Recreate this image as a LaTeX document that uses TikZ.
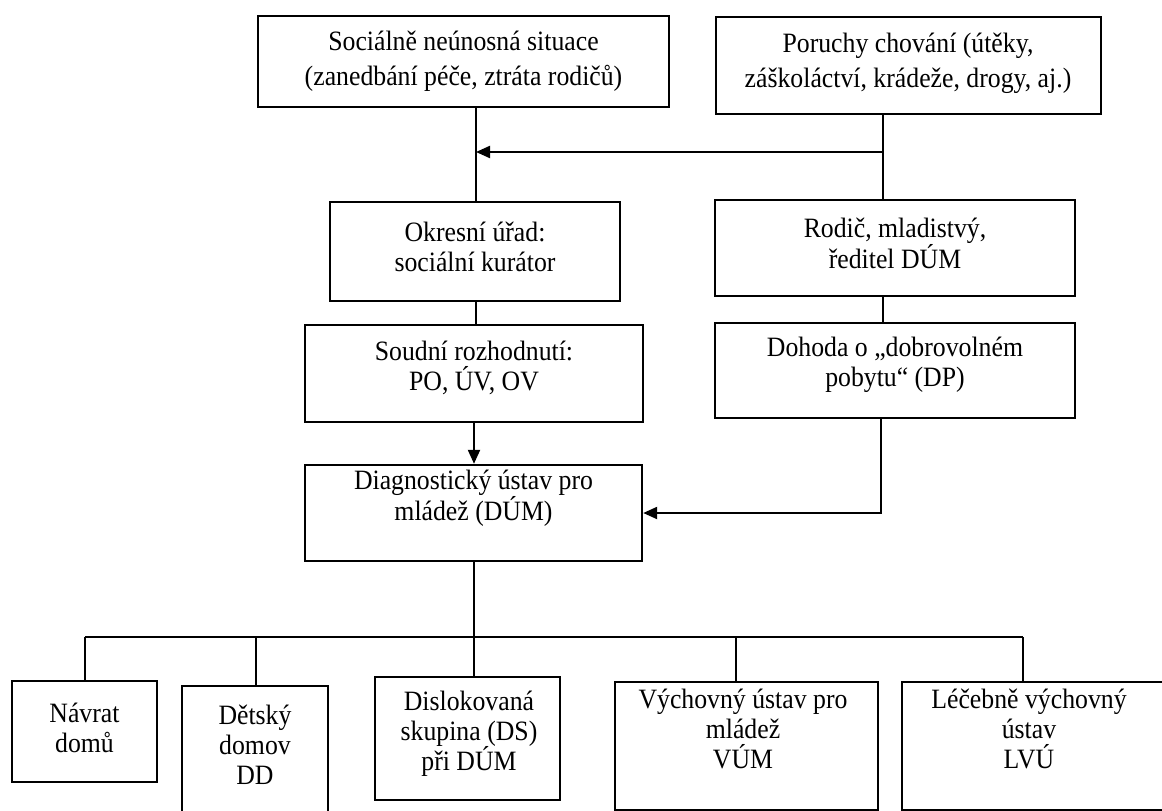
\documentclass[tikz,border=0pt]{standalone}
\usepackage{fontspec}
\setmainfont{Liberation Serif}[FakeStretch=0.92]
\usetikzlibrary{arrows.meta}
\tikzset{
  box/.style={draw, line width=2.4pt, inner sep=0pt},
  txt/.style={align=center, inner sep=0pt, font=\fontsize{28}{30}\selectfont},
  txttop/.style={align=center, inner sep=0pt, font=\fontsize{28}{35}\selectfont},
  conn/.style={line width=2.2pt},
  arr/.style={line width=2.2pt, -{Triangle[length=14pt,width=12pt]}}
}
\begin{document}
\begin{tikzpicture}[x=1pt,y=-1pt]
\clip (0,0) rectangle (1162,811);
\fill[white] (0,0) rectangle (1162,811);
% boxes
\node[box, minimum width=411pt, minimum height=91pt] (b1) at (463.5,61.5) {};
\node[box, minimum width=385pt, minimum height=97pt] (b2) at (908.5,65.5) {};
\node[box, minimum width=290pt, minimum height=99pt] (b3) at (475,251.5) {};
\node[box, minimum width=360pt, minimum height=96pt] (b4) at (895,248) {};
\node[box, minimum width=338pt, minimum height=97pt] (b5) at (474,373.5) {};
\node[box, minimum width=360pt, minimum height=95pt] (b6) at (895,370.5) {};
\node[box, minimum width=337pt, minimum height=96pt] (b7) at (473.5,513) {};
\node[box, minimum width=145pt, minimum height=101pt] (b8) at (84.5,731.5) {};
\node[box, minimum width=146pt, minimum height=144pt] (b9) at (255,758) {};
\node[box, minimum width=185pt, minimum height=123pt] (b10) at (467.5,738.5) {};
\node[box, minimum width=263pt, minimum height=128pt] (b11) at (746.5,746) {};
\node[box, minimum width=298pt, minimum height=128pt] (b12) at (1051,746) {};
% texts
\node[txttop] (t1) at (463.5,61) {Sociálně neúnosná situace\\(zanedbání péče, ztráta rodičů)};
\node[txttop] (t2) at (908,63) {Poruchy chování (útěky,\\záškoláctví, krádeže, drogy, aj.)};
\node[txt] (t3) at (475,247) {Okresní úřad:\\sociální kurátor};
\node[txt] (t4) at (895,243) {Rodič, mladistvý,\\ředitel DÚM};
\node[txt] (t5) at (474,368) {Soudní rozhodnutí:\\PO, ÚV, OV};
\node[txt] (t6) at (895,365) {Dohoda o „dobrovolném\\pobytu“ (DP)};
\node[txt] (t7) at (473.5,498) {Diagnostický ústav pro\\mládež (DÚM)};
\node[txt] (t8) at (84.5,728) {Návrat\\domů};
\node[txt] (t9) at (255,745) {Dětský\\domov\\DD};
\node[txt] (t10) at (469,734) {Dislokovaná\\skupina (DS)\\při DÚM};
\node[txt] (t11) at (743,729) {Výchovný ústav pro\\mládež\\VÚM};
\node[txt] (t12) at (1029,729) {Léčebně výchovný\\ústav\\LVÚ};
% junctions
\coordinate (j1) at (476,152);
\coordinate (j2) at (883,152);
\coordinate (j3) at (881,513);
\coordinate (j4) at (474,637);
\coordinate (bl) at (85,637);
\coordinate (br) at (1023,637);
\coordinate (d2) at (256,637);
\coordinate (d4) at (736,637);
% connectors
\draw[conn] (b1.south -| j1) -- (b3.north -| j1);
\draw[conn] (b2.south -| j2) -- (b4.north -| j2);
\draw[arr] (j2) -- (j1);
\draw[conn] (b3.south -| j1) -- (b5.north -| j1);
\draw[conn] (b4.south -| j2) -- (b6.north -| j2);
\draw[arr] (b5.south -| j4) -- (b7.north -| j4);
\draw[arr] (b6.south -| j3) -- (j3) -- (b7.east |- j3);
\draw[conn] (b7.south -| j4) -- (j4);
\draw[conn] (bl) -- (br);
\draw[conn] (bl) -- (b8.north -| bl);
\draw[conn] (d2) -- (b9.north -| d2);
\draw[conn] (j4) -- (b10.north -| j4);
\draw[conn] (d4) -- (b11.north -| d4);
\draw[conn] (br) -- (b12.north -| br);
\end{tikzpicture}
\end{document}
